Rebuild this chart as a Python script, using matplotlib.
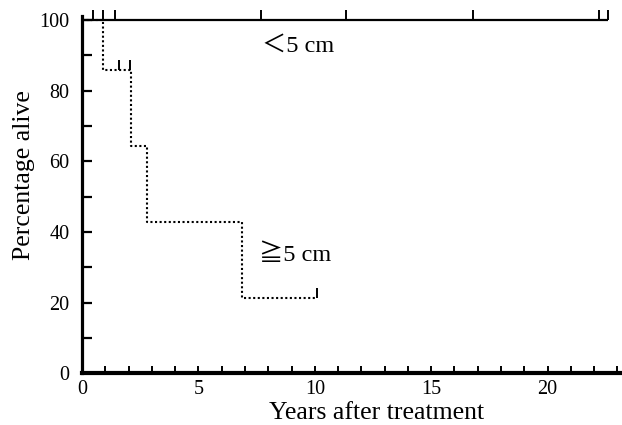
import numpy as np
import matplotlib.pyplot as plt
from matplotlib.ticker import MultipleLocator

# Kaplan-Meier style survival data
small_t = [0, 22.6]            # < 5 cm group
small_s = [100, 100]
small_censor_t = [0.45, 0.9, 1.4, 7.7, 11.35, 16.8, 22.2, 22.6]

large_t = [0, 0.9, 2.1, 2.8, 6.85, 10.1]   # >= 5 cm group
large_s = [100, 85.7, 64.3, 42.9, 21.4, 21.4]
large_censor_t = [1.6, 2.05, 10.1]
large_censor_s = [85.7, 85.7, 21.4]

serif = ['Liberation Serif', 'DejaVu Serif']
sym = ['Liberation Serif', 'Noto Sans CJK JP', 'DejaVu Sans']

fig = plt.figure(figsize=(6.22, 4.25), dpi=100)
ax = fig.add_axes([0.132, 0.122, 0.868, 0.831])

# censor mark: short vertical stroke going up from the point
up = [(0, 0), (0, 1)]

ax.plot(small_t, small_s, color='black', lw=1.6, solid_capstyle='butt', clip_on=False)
ax.plot(small_censor_t, [100] * len(small_censor_t), ls='none', marker=up,
        ms=14, mew=1.4, color='black', clip_on=False)

ax.step(large_t, large_s, where='post', color='black', lw=1.5, ls=(0, (1, 1.2)), clip_on=False)
ax.plot(large_censor_t, large_censor_s, ls='none', marker=up,
        ms=14, mew=1.4, color='black', clip_on=False)

ax.text(7.75, 92.5, '＜5 cm', family=sym, fontsize=17.5, va='center', ha='left')
ax.text(7.6, 33.5, '≧5 cm', family=sym, fontsize=17.5, va='center', ha='left')

ax.set_xlim(0, 23.2)
ax.set_ylim(0, 100)

ax.spines['top'].set_visible(False)
ax.spines['right'].set_visible(False)
ax.spines['bottom'].set_linewidth(3)
ax.spines['left'].set_linewidth(2.3)
ax.spines['left'].set_bounds(0, 101)

ax.xaxis.set_major_locator(MultipleLocator(5))
ax.xaxis.set_minor_locator(MultipleLocator(1))
ax.yaxis.set_major_locator(MultipleLocator(20))
ax.yaxis.set_minor_locator(MultipleLocator(10))
ax.tick_params(axis='x', which='both', direction='in', length=5, width=1.4, pad=5)
ax.tick_params(axis='y', which='both', direction='in', length=7, width=1.6, pad=9)

for lab in ax.get_xticklabels() + ax.get_yticklabels():
    lab.set_family(serif)
    lab.set_fontsize(14.5)

ax.set_xlabel('Years after treatment', family=serif, fontsize=18.5)
ax.set_ylabel('Percentage alive', family=serif, fontsize=18.5)
ax.xaxis.set_label_coords(0.545, -0.082)
ax.yaxis.set_label_coords(-0.088, 0.56)

fig.savefig('out.png', dpi=100)
